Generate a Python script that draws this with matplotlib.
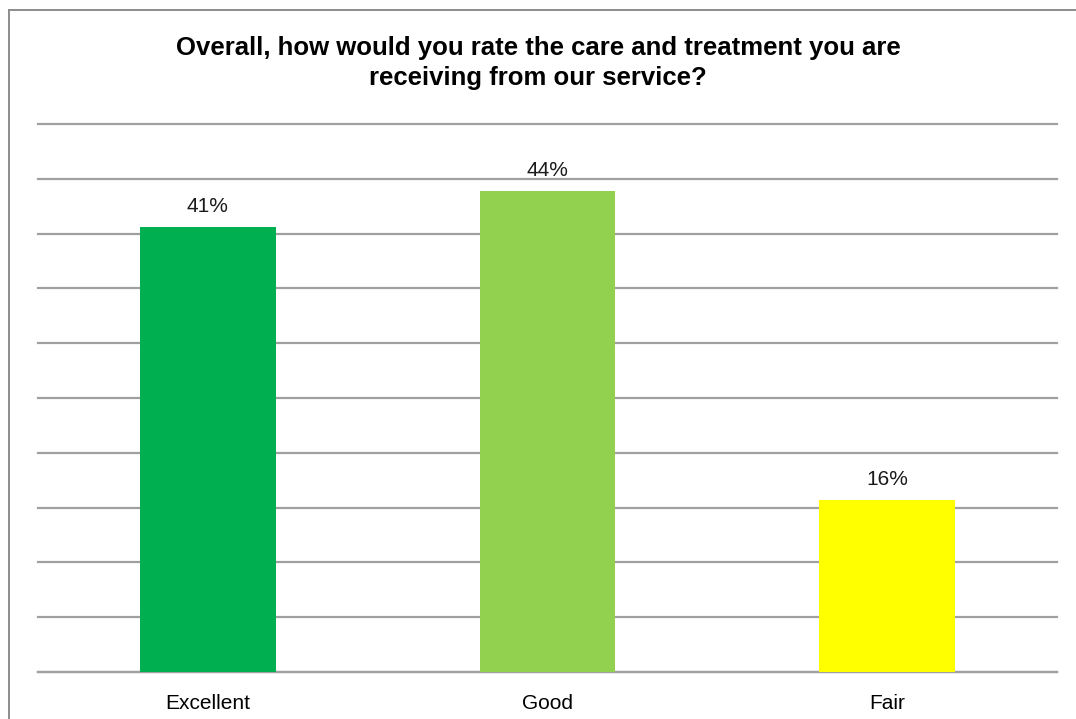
import matplotlib
matplotlib.use("Agg")
import matplotlib.pyplot as plt
from matplotlib.lines import Line2D

plt.rcParams['font.family'] = ['Liberation Sans', 'DejaVu Sans']

categories = ["Excellent", "Good", "Fair"]
values = [40.6, 43.9, 15.7]
labels = ["41%", "44%", "16%"]
colors = ["#00AF50", "#92D050", "#FFFF00"]
title_lines = ["Overall, how would you rate the care and treatment you are",
               "receiving from our service?"]

W, H = 1076, 719
fig = plt.figure(figsize=(W / 100, H / 100), dpi=100)
ax = fig.add_axes([38 / W, 1 - 672 / H, (1057 - 38) / W, (672 - 124) / H])

x = range(len(categories))
ax.bar(x, values, width=0.4, color=colors, zorder=3)
for xi, v, lab in zip(x, values, labels):
    ax.text(xi, v + 1.9, lab, ha="center", va="center", fontsize=15, color="#1a1a1a")

ax.set_ylim(0, 50)
ax.set_xlim(-0.5, 2.5)
ax.set_yticks(range(0, 51, 5))
ax.yaxis.grid(True, color="#A0A0A0", linewidth=1.6, zorder=0)
for gl in ax.get_ygridlines():
    gl.set_clip_on(False)
ax.tick_params(axis="y", left=False, labelleft=False)
ax.tick_params(axis="x", bottom=False, labelsize=15, pad=12)
ax.set_xticks(list(x))
ax.set_xticklabels(categories)
for s in ["top", "right", "left"]:
    ax.spines[s].set_visible(False)
ax.spines["bottom"].set_color("#A0A0A0")
ax.spines["bottom"].set_linewidth(1.6)

# title, two lines placed on their baselines
for line, base in zip(title_lines, [55, 85]):
    fig.text(0.5, 1 - base / H, line, ha="center", va="baseline",
             fontsize=18.5, fontweight="bold")

# outer chart border (cut off at right and bottom)
fig.add_artist(Line2D([8.5 / W, 8.5 / W], [0, 1 - 9.5 / H], transform=fig.transFigure, color="#8C8C8C", linewidth=1.4))
fig.add_artist(Line2D([8.5 / W, 1], [1 - 9.5 / H, 1 - 9.5 / H], transform=fig.transFigure, color="#8C8C8C", linewidth=1.4))

fig.savefig("out.png", dpi=100)
